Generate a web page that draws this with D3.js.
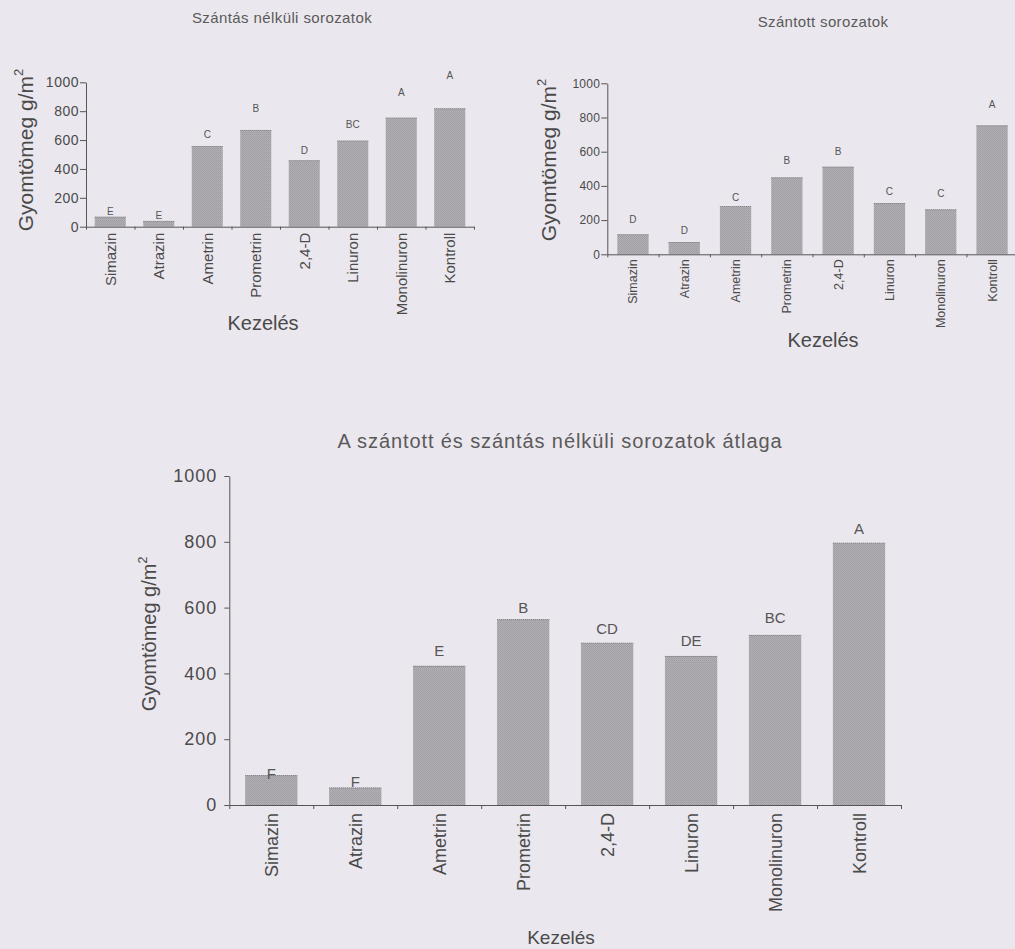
<!DOCTYPE html>
<html>
<head>
<meta charset="utf-8">
<script src="https://cdn.jsdelivr.net/npm/d3@7"></script>
<style>
  html, body { margin: 0; padding: 0; background: #ebe7ee; }
  svg { display: block; }
  text { font-family: "Liberation Sans", Arial, Helvetica, sans-serif; }
</style>
</head>
<body>
<svg id="chart" width="1015" height="949"></svg>
<script>
// Treatments (herbicides) shared by all three panels
const categories = ["Simazin", "Atrazin", "Ametrin", "Prometrin", "2,4-D", "Linuron", "Monolinuron", "Kontroll"];
const yTicks = [0, 200, 400, 600, 800, 1000];

// Weed biomass, g/m2 – series without ploughing
const unplowedValues = [69, 40, 559, 670, 460, 596, 755, 820];
const unplowedLetters = ["E", "E", "C", "B", "D", "BC", "A", "A"];
const unplowedUpper = [109, 79, 642, 822, 531, 711, 928, 1046];

// Weed biomass, g/m2 – ploughed series
const plowedValues = [117, 72, 282, 450, 512, 300, 263, 754];
const plowedLetters = ["D", "D", "C", "B", "B", "C", "C", "A"];
const plowedUpper = [205, 138, 331, 547, 600, 366, 357, 879];

// Weed biomass, g/m2 – mean of both series
const meanValues = [91, 53, 423, 565, 493, 453, 517, 797];
const meanLetters = ["F", "F", "E", "B", "CD", "DE", "BC", "A"];
const meanUpper = [94, 71, 468, 600, 535, 501, 569, 839];

const svg = d3.select("#chart");

// fine halftone texture for the bars
const defs = svg.append("defs");
const pat = defs.append("pattern")
  .attr("id", "dither").attr("patternUnits", "userSpaceOnUse")
  .attr("width", 2).attr("height", 2);
pat.append("rect").attr("width", 2).attr("height", 2).attr("fill", "#b1afb3");
pat.append("rect").attr("width", 1).attr("height", 1).attr("fill", "#9e9ca0");
pat.append("rect").attr("x", 1).attr("y", 1).attr("width", 1).attr("height", 1).attr("fill", "#a5a3a7");

const axisColor = "#555";
const textColor = "#4a4a4a";

function panel(cfg) {
  const g = svg.append("g");
  const x = d3.scaleBand().domain(categories)
    .range([cfg.x0, cfg.x1]).paddingInner(cfg.pad).paddingOuter(cfg.pad / 2);
  const xEdges = d3.scaleLinear().domain([0, categories.length]).range([cfg.x0, cfg.x1]);
  const y = d3.scaleLinear().domain([0, 1000]).range([cfg.yBottom, cfg.yTop]);

  // bars
  g.selectAll("rect.bar").data(cfg.values).join("rect")
    .attr("class", "bar")
    .attr("x", (d, i) => x(categories[i]))
    .attr("width", x.bandwidth())
    .attr("y", d => y(d))
    .attr("height", d => y(0) - y(d))
    .attr("fill", "url(#dither)");
  g.selectAll("line.top").data(cfg.values).join("line")
    .attr("class", "top")
    .attr("x1", (d, i) => x(categories[i]))
    .attr("x2", (d, i) => x(categories[i]) + x.bandwidth())
    .attr("y1", d => y(d) + 0.5).attr("y2", d => y(d) + 0.5)
    .attr("stroke", "#858387").attr("stroke-dasharray", "1,1");

  // significance letters
  g.selectAll("text.sig").data(cfg.letters).join("text")
    .attr("class", "sig")
    .attr("x", (d, i) => x(categories[i]) + x.bandwidth() / 2)
    .attr("y", (d, i) => y(cfg.upper[i]))
    .attr("dy", "0.36em")
    .attr("text-anchor", "middle")
    .attr("font-size", cfg.letterSize)
    .attr("fill", "#555")
    .text(d => d);

  // y axis
  const ya = g.append("g").attr("transform", `translate(${cfg.x0},0)`)
    .call(d3.axisLeft(y).tickValues(yTicks).tickFormat(d3.format("d"))
      .tickSize(cfg.yTick).tickSizeOuter(0).tickPadding(cfg.yPad));
  ya.selectAll("path, line").attr("stroke", axisColor);
  ya.selectAll("text").attr("font-size", cfg.tickSize).attr("fill", textColor)
    .attr("font-family", "'Liberation Sans', Arial, sans-serif")
    .style("letter-spacing", cfg.tickSpacing + "px");

  // x axis line with ticks on band edges
  const xa = g.append("g").attr("transform", `translate(0,${cfg.yBottom})`)
    .call(d3.axisBottom(xEdges).ticks(categories.length).tickSize(cfg.xTick).tickSizeOuter(0).tickFormat(""));
  xa.selectAll("path, line").attr("stroke", axisColor);

  // category labels
  const xl = g.append("g").attr("transform", `translate(0,${cfg.yBottom})`)
    .call(d3.axisBottom(x).tickSize(0));
  xl.select(".domain").remove();
  xl.selectAll("text")
    .attr("transform", "rotate(-90)")
    .attr("x", -cfg.labelGap).attr("y", 0).attr("dy", "0.36em")
    .attr("text-anchor", "end")
    .attr("font-size", cfg.labelSize).attr("fill", textColor)
    .attr("font-family", "'Liberation Sans', Arial, sans-serif");

  // y axis title
  const yt = g.append("text")
    .attr("transform", `translate(${cfg.yTitleX},${cfg.yTitleY}) rotate(-90)`)
    .attr("text-anchor", "middle")
    .attr("font-size", cfg.yTitleSize).attr("fill", textColor);
  yt.append("tspan").text("Gyomtömeg g/m");
  yt.append("tspan").attr("font-size", "0.62em").attr("dy", "-0.75em").text("2");

  // x axis title
  g.append("text")
    .attr("x", cfg.xTitleX).attr("y", cfg.xTitleY)
    .attr("text-anchor", "middle")
    .attr("font-size", cfg.xTitleSize).attr("fill", textColor)
    .text("Kezelés");

  // panel title
  g.append("text")
    .attr("x", cfg.titleX).attr("y", cfg.titleY)
    .attr("text-anchor", "middle")
    .attr("font-size", cfg.titleSize).attr("fill", "#5a5a5a")
    .style("letter-spacing", cfg.titleSpacing + "px")
    .text(cfg.title);
}

panel({
  title: "Szántás nélküli sorozatok",
  values: unplowedValues, letters: unplowedLetters, upper: unplowedUpper,
  x0: 86, x1: 474, yTop: 82.3, yBottom: 226.7, pad: 0.36,
  letterSize: 10, tickSize: 14, tickSpacing: 0.5, yTick: 6, yPad: 1, xTick: 3,
  labelSize: 15, labelGap: 6,
  yTitleX: 33, yTitleY: 150, yTitleSize: 21,
  xTitleX: 263, xTitleY: 330, xTitleSize: 20,
  titleX: 282, titleY: 23, titleSize: 15, titleSpacing: 0.4
});

panel({
  title: "Szántott sorozatok",
  values: plowedValues, letters: plowedLetters, upper: plowedUpper,
  x0: 607.3, x1: 1017.7, yTop: 83.3, yBottom: 254.3, pad: 0.39,
  letterSize: 10, tickSize: 12, tickSpacing: 0.3, yTick: 6, yPad: 1, xTick: 3,
  labelSize: 12.5, labelGap: 5,
  yTitleX: 556, yTitleY: 160, yTitleSize: 21,
  xTitleX: 823, xTitleY: 347, xTitleSize: 20,
  titleX: 823, titleY: 27, titleSize: 15, titleSpacing: 0.35
});

panel({
  title: "A szántott és szántás nélküli sorozatok átlaga",
  values: meanValues, letters: meanLetters, upper: meanUpper,
  x0: 229.3, x1: 901, yTop: 476, yBottom: 805, pad: 0.377,
  letterSize: 15, tickSize: 18, tickSpacing: 1, yTick: 5, yPad: 7, xTick: 4,
  labelSize: 18, labelGap: 8,
  yTitleX: 156, yTitleY: 634, yTitleSize: 20,
  xTitleX: 561, xTitleY: 944, xTitleSize: 19,
  titleX: 560, titleY: 448, titleSize: 20, titleSpacing: 0.9
});
</script>
</body>
</html>
